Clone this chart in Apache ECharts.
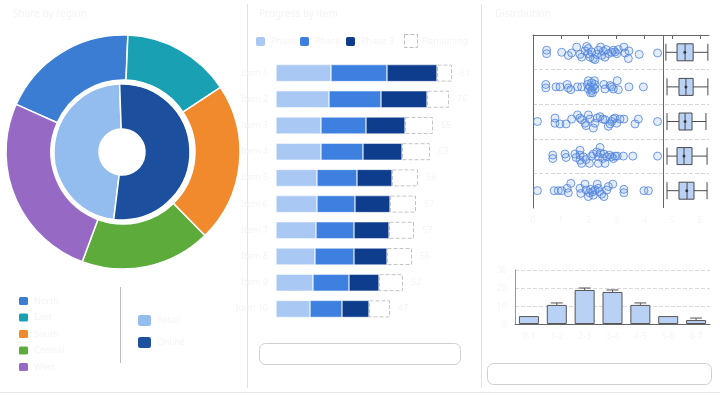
<!DOCTYPE html>
<html><head><meta charset="utf-8">
<script src="https://cdn.jsdelivr.net/npm/echarts@6/dist/echarts.min.js"></script>
<style>html,body{margin:0;padding:0;background:#fff}#c{width:720px;height:395px}</style>
</head><body><div id="c"></div>
<script>
// ---- Panel 1: nested donut ----
const outerCats = ['North', 'East', 'South', 'Central', 'West'];
const outerVals = [19, 15, 22, 18, 26];
const outerColors = ['#3b7dd3', '#19a0b3', '#f08a2c', '#5cab3b', '#9569c4'];
const innerCats = ['Retail', 'Online'];
const innerVals = [47.5, 52.5];
const innerColors = ['#93bcef', '#1c509e'];

// ---- Panel 2: stacked bars with target box ----
const stackCats = ['Item 1', 'Item 2', 'Item 3', 'Item 4', 'Item 5', 'Item 6', 'Item 7', 'Item 8', 'Item 9', 'Item 10'];
const stackNames = ['Phase 1', 'Phase 2', 'Phase 3', 'Remaining'];
const seg1 = [27.5, 26.5, 22.5, 22.5, 20.5, 20.5, 20, 19.5, 18.5, 17];
const seg2 = [28, 26, 22.5, 21, 20, 19, 19, 19.5, 18, 16];
const seg3 = [25, 23, 19.5, 19.5, 17.5, 17.5, 17.5, 16.5, 15, 13.5];
const seg4 = [7.5, 11, 14, 14, 13, 13, 12.5, 12.5, 12, 10.5];
const stackColors = ['#a9c8f4', '#3d80e0', '#0e3d8d'];

// ---- Panel 3 top: strip plot + box plots (value, jitter) ----
const groupNames = ['G1', 'G2', 'G3', 'G4', 'G5'];
const strip1 = [[0.49,-0.06],[0.49,0.04],[1.03,0],[1.27,0.09],[1.39,0.02],[1.57,-0.15],[1.69,0.06],[1.75,0.14],[1.87,-0.04],[1.93,-0.17],[1.99,-0.11],[1.99,0.04],[2.05,0.14],[2.11,-0.01],[2.17,0.18],[2.23,0.21],[2.29,0.06],[2.35,-0.06],[2.43,-0.15],[2.47,0.09],[2.53,-0.03],[2.59,0.14],[2.63,-0.08],[2.71,0.04],[2.83,0],[2.89,-0.06],[2.95,-0.01],[3.01,0.04],[3.07,-0.08],[3.27,-0.15],[3.31,0.02],[3.43,0.18],[3.45,-0.04],[3.82,0.06],[4.48,0.02]];
const strip2 = [[0.46,-0.07],[0.46,0.03],[0.83,0],[0.97,0],[1.23,-0.07],[1.27,0.03],[1.36,0.08],[1.6,0],[1.75,0],[1.99,-0.18],[2.21,-0.18],[1.96,-0.07],[2.23,-0.07],[1.99,0.06],[2.23,0.06],[2.07,0.17],[2.14,0.17],[2.05,0],[2.17,0],[2.11,-0.12],[2.11,0.1],[2.55,-0.07],[2.59,0.06],[2.77,-0.04],[2.83,0],[2.89,0.06],[3.03,-0.18],[3.07,0.08],[3.45,0],[3.97,0]];
const strip3 = [[0.16,0],[0.79,-0.1],[0.79,0.05],[0.97,0.07],[1.19,0.07],[1.39,-0.07],[1.6,-0.19],[1.69,-0.1],[1.75,-0.05],[1.87,0.05],[1.91,0.12],[1.99,-0.19],[2.05,-0.07],[2.17,0.19],[2.23,0.05],[2.31,-0.1],[2.41,-0.14],[2.51,-0.07],[2.59,-0.05],[2.71,0.14],[2.77,0.07],[2.83,0],[2.89,-0.07],[2.95,-0.1],[3.01,0.05],[3.13,-0.07],[3.27,-0.07],[3.67,0.07],[3.79,-0.07],[4.48,0]];
const strip4 = [[0.71,-0.03],[0.71,0.07],[1.15,-0.06],[1.19,0.04],[1.51,-0.06],[1.55,0.04],[1.69,-0.17],[1.69,-0.03],[1.69,0.12],[1.75,0.21],[1.81,0.02],[1.91,0.1],[2.03,0.21],[2.11,0],[2.17,-0.06],[2.29,-0.12],[2.35,0.02],[2.35,0.21],[2.41,-0.25],[2.43,-0.08],[2.51,0.07],[2.55,-0.06],[2.59,0.21],[2.65,0.02],[2.75,-0.03],[2.83,0.02],[2.89,0.07],[2.95,0],[3.03,0],[3.25,0],[3.59,0],[4.48,0]];
const strip5 = [[0.16,0],[0.76,0],[0.91,0],[1.03,0],[1.23,-0.07],[1.27,0.06],[1.36,-0.21],[1.69,-0.07],[1.72,0.08],[1.87,-0.19],[1.91,-0.02],[1.99,0.17],[2.03,0.06],[2.07,-0.04],[2.15,0.03],[2.17,0.13],[2.23,-0.02],[2.31,-0.19],[2.35,-0.07],[2.39,0.03],[2.47,0.1],[2.55,0.17],[2.65,-0.02],[2.71,-0.12],[2.87,-0.19],[3.27,-0.04],[3.27,0.06],[3.99,0],[4.15,0]];
const boxStats = [[4.78,5.18,5.47,5.76,6.29],[4.82,5.25,5.5,5.76,6.29],[4.82,5.25,5.47,5.72,6.22],[4.82,5.18,5.43,5.72,6.26],[4.82,5.25,5.54,5.79,6.26]];
const boxMeans = [5.46, 5.5, 5.47, 5.43, 5.53];

// ---- Panel 3 bottom: histogram with error bars ----
const histCats = ['0-1', '1-2', '2-3', '3-4', '4-5', '5-6', '6-7'];
const histVals = [4.4, 10.6, 18.9, 17.8, 10.6, 4.4, 2.2];
const histErr = [0, 1.1, 1.1, 1.1, 1.1, 0, 1.1];

const faint = '#f4f4f4';
const FONT = 'Noto Sans';

const chart = echarts.init(document.getElementById('c'), null, {renderer: 'canvas'});

const strips = [strip1, strip2, strip3, strip4, strip5];
const stripData = [];
strips.forEach((rows, gi) => rows.forEach(p => stripData.push([p[0], gi + 0.5 + p[1]])));

function legendAt(name, left, top, w, h, extra) {
  return Object.assign({data: [name], left: left, top: top, itemWidth: w, itemHeight: h, selectedMode: false,
    textStyle: {color: faint, fontSize: 9, fontFamily: FONT}, padding: 0}, extra || {});
}

const option = {
  animation: false,
  textStyle: {fontFamily: FONT},
  title: [
    {text: 'Share by region', left: 8, top: 4, textStyle: {color: faint, fontSize: 10, fontWeight: 'normal'}},
    {text: 'Progress by item', left: 254, top: 4, textStyle: {color: faint, fontSize: 10, fontWeight: 'normal'}},
    {text: 'Distribution', left: 490, top: 4, textStyle: {color: faint, fontSize: 10, fontWeight: 'normal'}}
  ],
  legend: [
    {data: outerCats, orient: 'vertical', left: 17, top: 295, itemWidth: 11, itemHeight: 10, itemGap: 4.5,
      selectedMode: false, padding: 0, textStyle: {color: faint, fontSize: 9, lineHeight: 10}},
    {data: innerCats, orient: 'vertical', left: 136, top: 313, itemWidth: 15, itemHeight: 13, itemGap: 7,
      selectedMode: false, padding: 0, textStyle: {color: faint, fontSize: 9, lineHeight: 13}},
    legendAt(stackNames[0], 254, 35, 11, 11),
    legendAt(stackNames[1], 298, 35, 11, 11),
    legendAt(stackNames[2], 344, 35, 11, 11),
    legendAt(stackNames[3], 404, 34, 13, 13, {icon: 'rect',
      itemStyle: {color: 'rgba(255,255,255,0)', borderColor: '#bdbdbd', borderWidth: 1, borderType: 'dashed'}})
  ],
  grid: [
    {left: 276, top: 60, width: 200, height: 262},
    {left: 533, top: 35, width: 176, height: 173},
    {left: 515, top: 270, width: 195, height: 54}
  ],
  xAxis: [
    {gridIndex: 0, type: 'value', min: 0, max: 100, show: false},
    {gridIndex: 1, type: 'value', min: 0, max: 6.33, interval: 1,
      axisLine: {show: true, lineStyle: {color: '#666'}}, axisTick: {show: true, length: 4, lineStyle: {color: '#666'}},
      splitLine: {show: false}, axisLabel: {color: faint, fontSize: 9}},
    {gridIndex: 2, type: 'category', data: histCats,
      axisLine: {lineStyle: {color: '#666'}}, axisTick: {alignWithLabel: true, length: 4, lineStyle: {color: '#666'}},
      axisLabel: {color: faint, fontSize: 9}}
  ],
  yAxis: [
    {gridIndex: 0, type: 'category', data: stackCats, inverse: true,
      axisLine: {show: false}, axisTick: {show: false}, axisLabel: {color: faint, fontSize: 9}},
    {gridIndex: 1, type: 'value', min: 0, max: 5, interval: 1, inverse: true,
      axisLine: {show: true, lineStyle: {color: '#666'}}, axisTick: {show: false}, axisLabel: {show: false},
      splitLine: {show: true, showMinLine: false, showMaxLine: false, lineStyle: {color: '#d6d6d6', type: 'dashed'}}},
    {gridIndex: 1, type: 'category', data: groupNames, inverse: true, show: false},
    {gridIndex: 2, type: 'value', min: 0, max: 30, interval: 10,
      axisLine: {show: true, lineStyle: {color: '#999'}}, axisTick: {show: false},
      axisLabel: {color: faint, fontSize: 9},
      splitLine: {lineStyle: {color: '#d9d9d9', type: 'dashed'}}}
  ],
  series: [
    {type: 'pie', name: 'outer', center: [123, 152], radius: [72, 117], startAngle: 156, clockwise: true,
      label: {show: false}, labelLine: {show: false}, silent: true,
      itemStyle: {borderColor: '#fff', borderWidth: 1.5},
      data: outerCats.map((n, i) => ({name: n, value: outerVals[i], itemStyle: {color: outerColors[i]}}))},
    {type: 'pie', name: 'inner', center: [122, 152], radius: [23, 68], startAngle: 263, clockwise: true,
      label: {show: false}, labelLine: {show: false}, silent: true,
      itemStyle: {borderColor: '#fff', borderWidth: 1.5},
      data: innerCats.map((n, i) => ({name: n, value: innerVals[i], itemStyle: {color: innerColors[i]}}))},
    {type: 'bar', name: stackNames[0], stack: 's', xAxisIndex: 0, yAxisIndex: 0, barWidth: 17, data: seg1,
      itemStyle: {color: stackColors[0], borderColor: '#fff', borderWidth: 0.5}},
    {type: 'bar', name: stackNames[1], stack: 's', xAxisIndex: 0, yAxisIndex: 0, barWidth: 17, data: seg2,
      itemStyle: {color: stackColors[1], borderColor: '#fff', borderWidth: 0.5}},
    {type: 'bar', name: stackNames[2], stack: 's', xAxisIndex: 0, yAxisIndex: 0, barWidth: 17, data: seg3,
      itemStyle: {color: stackColors[2], borderColor: '#fff', borderWidth: 0.5}},
    {type: 'bar', name: stackNames[3], stack: 's', xAxisIndex: 0, yAxisIndex: 0, barWidth: 17, data: seg4,
      itemStyle: {color: 'rgba(255,255,255,0)', borderColor: '#c4c4c4', borderWidth: 1, borderType: 'dashed'},
      label: {show: true, position: 'right', color: faint, fontSize: 9, distance: 8,
        formatter: p => String(Math.round(seg1[p.dataIndex] + seg2[p.dataIndex] + seg3[p.dataIndex]))}},
    {type: 'scatter', name: 'obs', xAxisIndex: 1, yAxisIndex: 1, symbolSize: 8, data: stripData,
      itemStyle: {color: 'rgba(110,155,235,0.22)', borderColor: '#4d82dc', borderWidth: 1},
      markLine: {silent: true, symbol: ['none', 'none'], label: {show: false},
        lineStyle: {color: '#666', type: 'solid', width: 1}, data: [{xAxis: 4.68}]}},
    {type: 'boxplot', name: 'box', xAxisIndex: 1, yAxisIndex: 2, boxWidth: [17, 17], data: boxStats,
      itemStyle: {color: '#b9d2f6', borderColor: '#4a4a4a', borderWidth: 1}},
    {type: 'scatter', name: 'mean', xAxisIndex: 1, yAxisIndex: 2, symbolSize: 3, z: 5,
      data: boxMeans.map((m, i) => [m, i]), itemStyle: {color: '#222'}},
    {type: 'bar', name: 'hist', xAxisIndex: 2, yAxisIndex: 3, barWidth: 20, data: histVals,
      itemStyle: {color: '#b9d1f5', borderColor: '#555', borderWidth: 1}},
    {type: 'custom', name: 'err', xAxisIndex: 2, yAxisIndex: 3, z: 5,
      data: histVals.map((v, i) => [i, v, histErr[i]]),
      renderItem: function (params, api) {
        const e = api.value(2);
        if (!e) return null;
        const p0 = api.coord([api.value(0), api.value(1)]);
        const p1 = api.coord([api.value(0), api.value(1) + e]);
        const hw = 6;
        return {type: 'group', children: [
          {type: 'line', shape: {x1: p0[0], y1: p0[1], x2: p1[0], y2: p1[1]}, style: {stroke: '#555', lineWidth: 1}},
          {type: 'line', shape: {x1: p1[0] - hw, y1: p1[1], x2: p1[0] + hw, y2: p1[1]}, style: {stroke: '#555', lineWidth: 1}}
        ]};
      }}
  ],
  graphic: [
    {type: 'line', shape: {x1: 247.5, y1: 4, x2: 247.5, y2: 388}, style: {stroke: '#e2e2e2', lineWidth: 1}, silent: true},
    {type: 'line', shape: {x1: 481.5, y1: 4, x2: 481.5, y2: 388}, style: {stroke: '#e2e2e2', lineWidth: 1}, silent: true},
    {type: 'line', shape: {x1: 0, y1: 392.5, x2: 720, y2: 392.5}, style: {stroke: '#e6e6e6', lineWidth: 1}, silent: true},
    {type: 'line', shape: {x1: 120.5, y1: 287, x2: 120.5, y2: 363}, style: {stroke: '#bdbdbd', lineWidth: 1}, silent: true},
    {type: 'rect', shape: {x: 259.5, y: 343.5, width: 201, height: 21, r: 6}, style: {fill: '#fff', stroke: '#cfcfcf', lineWidth: 1}, silent: true},
    {type: 'rect', shape: {x: 487.5, y: 363.5, width: 224, height: 21, r: 6}, style: {fill: '#fff', stroke: '#cfcfcf', lineWidth: 1}, silent: true}
  ]
};
chart.setOption(option);
</script>
</body></html>
